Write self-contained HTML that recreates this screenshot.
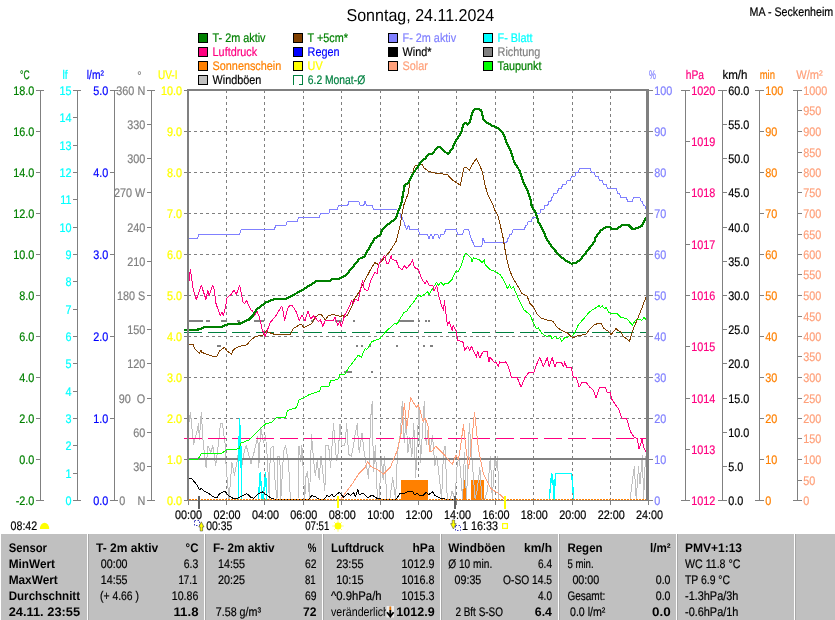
<!DOCTYPE html>
<html lang="de"><head><meta charset="utf-8"><title>Sonntag, 24.11.2024 - MA - Seckenheim</title>
<style>html,body{margin:0;padding:0;background:#fff}svg{display:block;will-change:transform}</style></head>
<body>
<svg width="835" height="620" viewBox="0 0 835 620" font-family="'Liberation Sans', sans-serif" text-rendering="geometricPrecision">
<rect width="835" height="620" fill="#fff"/>
<text x="346.50" y="20.50" fill="#000" font-size="17.3" textLength="147.70" lengthAdjust="spacingAndGlyphs">Sonntag, 24.11.2024</text>
<text x="749.60" y="15.80" fill="#000" font-size="12.5" textLength="83.60" lengthAdjust="spacingAndGlyphs" stroke="#000" stroke-width="0.2">MA - Seckenheim</text>
<rect x="198.5" y="33.5" width="9" height="9" fill="#008000" stroke="#000" stroke-width="1" shape-rendering="crispEdges"/>
<text transform="translate(212.60,41.80) scale(0.866,1)" fill="#008000" font-size="12.5" text-anchor="start" stroke="#008000" stroke-width="0.2">T- 2m aktiv</text>
<rect x="198.5" y="47.5" width="9" height="9" fill="#ff0080" stroke="#000" stroke-width="1" shape-rendering="crispEdges"/>
<text transform="translate(212.60,55.80) scale(0.866,1)" fill="#ff0080" font-size="12.5" text-anchor="start" stroke="#ff0080" stroke-width="0.2">Luftdruck</text>
<rect x="198.5" y="61.5" width="9" height="9" fill="#ff8000" stroke="#000" stroke-width="1" shape-rendering="crispEdges"/>
<text transform="translate(212.60,69.80) scale(0.866,1)" fill="#ff8000" font-size="12.5" text-anchor="start" stroke="#ff8000" stroke-width="0.2">Sonnenschein</text>
<rect x="198.5" y="75.5" width="9" height="9" fill="#c0c0c0" stroke="#000" stroke-width="1" shape-rendering="crispEdges"/>
<text transform="translate(212.60,83.80) scale(0.866,1)" fill="#000" font-size="12.5" text-anchor="start" stroke="#000" stroke-width="0.2">Windböen</text>
<rect x="293.5" y="33.5" width="9" height="9" fill="#804000" stroke="#000" stroke-width="1" shape-rendering="crispEdges"/>
<text transform="translate(307.60,41.80) scale(0.866,1)" fill="#008000" font-size="12.5" text-anchor="start" stroke="#008000" stroke-width="0.2">T +5cm*</text>
<rect x="293.5" y="47.5" width="9" height="9" fill="#0000ff" stroke="#000" stroke-width="1" shape-rendering="crispEdges"/>
<text transform="translate(307.60,55.80) scale(0.866,1)" fill="#0000ff" font-size="12.5" text-anchor="start" stroke="#0000ff" stroke-width="0.2">Regen</text>
<rect x="293.5" y="61.5" width="9" height="9" fill="#ffff00" stroke="#000" stroke-width="1" shape-rendering="crispEdges"/>
<text transform="translate(307.60,69.80) scale(0.866,1)" fill="#ffff00" font-size="12.5" text-anchor="start" stroke="#ffff00" stroke-width="0.2">UV</text>
<path d="M293.5,85 V75.5 H302.5 V84.5 H299" fill="none" stroke="#008040" stroke-width="1" shape-rendering="crispEdges"/>
<text x="307.80" y="83.80" fill="#008040" font-size="12.5" textLength="57.40" lengthAdjust="spacingAndGlyphs" stroke="#008040" stroke-width="0.2">6.2 Monat-Ø</text>
<rect x="388.5" y="33.5" width="9" height="9" fill="#8080ff" stroke="#000" stroke-width="1" shape-rendering="crispEdges"/>
<text transform="translate(402.60,41.80) scale(0.866,1)" fill="#8080ff" font-size="12.5" text-anchor="start" stroke="#8080ff" stroke-width="0.2">F- 2m aktiv</text>
<rect x="388.5" y="47.5" width="9" height="9" fill="#000" stroke="#000" stroke-width="1" shape-rendering="crispEdges"/>
<text transform="translate(402.60,55.80) scale(0.866,1)" fill="#000" font-size="12.5" text-anchor="start" stroke="#000" stroke-width="0.2">Wind*</text>
<rect x="388.5" y="61.5" width="9" height="9" fill="#ffa07a" stroke="#000" stroke-width="1" shape-rendering="crispEdges"/>
<text transform="translate(402.60,69.80) scale(0.866,1)" fill="#ffa07a" font-size="12.5" text-anchor="start" stroke="#ffa07a" stroke-width="0.2">Solar</text>
<rect x="483.5" y="33.5" width="9" height="9" fill="#00ffff" stroke="#000" stroke-width="1" shape-rendering="crispEdges"/>
<text transform="translate(497.60,41.80) scale(0.866,1)" fill="#00ffff" font-size="12.5" text-anchor="start" stroke="#00ffff" stroke-width="0.2">F- Blatt</text>
<rect x="483.5" y="47.5" width="9" height="9" fill="#808080" stroke="#000" stroke-width="1" shape-rendering="crispEdges"/>
<text transform="translate(497.60,55.80) scale(0.866,1)" fill="#808080" font-size="12.5" text-anchor="start" stroke="#808080" stroke-width="0.2">Richtung</text>
<rect x="483.5" y="61.5" width="9" height="9" fill="#00ff00" stroke="#000" stroke-width="1" shape-rendering="crispEdges"/>
<text transform="translate(497.60,69.80) scale(0.866,1)" fill="#008000" font-size="12.5" text-anchor="start" stroke="#008000" stroke-width="0.2">Taupunkt</text>
<line x1="226.5" y1="90" x2="226.5" y2="500" stroke="#808080" stroke-width="1" stroke-dasharray="3 3" shape-rendering="crispEdges"/>
<line x1="264.5" y1="90" x2="264.5" y2="500" stroke="#808080" stroke-width="1" stroke-dasharray="3 3" shape-rendering="crispEdges"/>
<line x1="303.5" y1="90" x2="303.5" y2="500" stroke="#808080" stroke-width="1" stroke-dasharray="3 3" shape-rendering="crispEdges"/>
<line x1="341.5" y1="90" x2="341.5" y2="500" stroke="#808080" stroke-width="1" stroke-dasharray="3 3" shape-rendering="crispEdges"/>
<line x1="380.5" y1="90" x2="380.5" y2="500" stroke="#808080" stroke-width="1" stroke-dasharray="3 3" shape-rendering="crispEdges"/>
<line x1="418.5" y1="90" x2="418.5" y2="500" stroke="#808080" stroke-width="1" stroke-dasharray="3 3" shape-rendering="crispEdges"/>
<line x1="456.5" y1="90" x2="456.5" y2="500" stroke="#808080" stroke-width="1" stroke-dasharray="3 3" shape-rendering="crispEdges"/>
<line x1="495.5" y1="90" x2="495.5" y2="500" stroke="#808080" stroke-width="1" stroke-dasharray="3 3" shape-rendering="crispEdges"/>
<line x1="533.5" y1="90" x2="533.5" y2="500" stroke="#808080" stroke-width="1" stroke-dasharray="3 3" shape-rendering="crispEdges"/>
<line x1="572.5" y1="90" x2="572.5" y2="500" stroke="#808080" stroke-width="1" stroke-dasharray="3 3" shape-rendering="crispEdges"/>
<line x1="610.5" y1="90" x2="610.5" y2="500" stroke="#808080" stroke-width="1" stroke-dasharray="3 3" shape-rendering="crispEdges"/>
<line x1="188" y1="131.5" x2="648" y2="131.5" stroke="#808080" stroke-width="1" stroke-dasharray="3 3" shape-rendering="crispEdges"/>
<line x1="188" y1="172.5" x2="648" y2="172.5" stroke="#808080" stroke-width="1" stroke-dasharray="3 3" shape-rendering="crispEdges"/>
<line x1="188" y1="213.5" x2="648" y2="213.5" stroke="#808080" stroke-width="1" stroke-dasharray="3 3" shape-rendering="crispEdges"/>
<line x1="188" y1="254.5" x2="648" y2="254.5" stroke="#808080" stroke-width="1" stroke-dasharray="3 3" shape-rendering="crispEdges"/>
<line x1="188" y1="295.5" x2="648" y2="295.5" stroke="#808080" stroke-width="1" stroke-dasharray="3 3" shape-rendering="crispEdges"/>
<line x1="188" y1="336.5" x2="648" y2="336.5" stroke="#808080" stroke-width="1" stroke-dasharray="3 3" shape-rendering="crispEdges"/>
<line x1="188" y1="377.5" x2="648" y2="377.5" stroke="#808080" stroke-width="1" stroke-dasharray="3 3" shape-rendering="crispEdges"/>
<line x1="188" y1="418.5" x2="648" y2="418.5" stroke="#808080" stroke-width="1" stroke-dasharray="3 3" shape-rendering="crispEdges"/>
<line x1="188" y1="459.5" x2="648" y2="459.5" stroke="#808080" stroke-width="1" stroke-dasharray="3 3" shape-rendering="crispEdges"/>
<g stroke-linejoin="round" stroke-linecap="butt" shape-rendering="crispEdges">
<rect x="188.5" y="319.6" width="14.9" height="2" fill="#808080"/>
<rect x="206.3" y="319.6" width="3.5" height="2" fill="#808080"/>
<rect x="220.8" y="319.6" width="5.8" height="2" fill="#808080"/>
<rect x="237.2" y="319.6" width="2.9" height="2" fill="#808080"/>
<rect x="253.7" y="319.6" width="5.8" height="2" fill="#808080"/>
<rect x="261.4" y="319.6" width="2.9" height="2" fill="#808080"/>
<rect x="310.7" y="319.6" width="2.9" height="2" fill="#808080"/>
<rect x="335.0" y="319.6" width="6.7" height="2" fill="#808080"/>
<rect x="353.0" y="319.6" width="2.0" height="2" fill="#808080"/>
<rect x="398.0" y="319.6" width="15.5" height="2" fill="#808080"/>
<rect x="417.5" y="319.6" width="2.0" height="2" fill="#808080"/>
<rect x="425.0" y="319.6" width="2.0" height="2" fill="#808080"/>
<rect x="428.0" y="319.6" width="2.0" height="2" fill="#808080"/>
<rect x="217.0" y="345.2" width="3.8" height="2" fill="#808080"/>
<rect x="356.0" y="345.2" width="2.0" height="2" fill="#808080"/>
<rect x="360.7" y="345.2" width="2.0" height="2" fill="#808080"/>
<rect x="369.0" y="345.2" width="2.0" height="2" fill="#808080"/>
<rect x="396.0" y="345.2" width="2.0" height="2" fill="#808080"/>
<rect x="422.6" y="345.2" width="2.0" height="2" fill="#808080"/>
<rect x="430.0" y="345.2" width="3.0" height="2" fill="#808080"/>
<rect x="343.9" y="371.0" width="7.7" height="2" fill="#808080"/>
<rect x="371.0" y="371.0" width="2.0" height="2" fill="#808080"/>
<rect x="401.3" y="479.5" width="26.69999999999999" height="20.5" fill="#ff8000"/>
<rect x="462.5" y="479.5" width="3.1000000000000227" height="20.5" fill="#ff8000"/>
<rect x="471" y="479.5" width="13" height="20.5" fill="#ff8000"/>
<polyline points="188.4,425.7 190.4,412.2 193.6,444.8 196.5,433.3 198.4,423.7 199.4,439.1 201.3,412.2 203.2,442.9 206.1,467.8 208.0,445.8 210.9,452.5 212.8,445.8 215.7,465.9 218.5,442.9 220.4,423.7 222.4,423.7 225.2,444.8 226.2,467.8 229.1,499.4 231.9,462.1 234.4,475.5 237.7,458.2 239.6,441.0 241.5,467.8 244.4,450.6 246.3,445.8 251.1,464.0 254.0,452.5 257.8,436.2 258.8,467.8 260.7,427.6 263.6,442.9 265.5,435.2 267.4,458.2 269.3,499.4 270.3,448.7 273.1,445.8 275.1,481.2 277.0,499.4 277.9,456.3 279.8,456.3 280.8,499.4 283.7,450.6 285.6,445.8 288.5,462.1 290.4,499.4 298.0,499.4 299.0,445.8 300.9,462.1 301.9,445.8 304.8,499.4 305.7,477.4 307.6,471.6 309.5,499.4 311.5,434.3 313.4,458.2 315.3,475.5 317.2,460.1 319.1,479.3 321.0,456.3 324.9,490.8 325.8,445.8 328.7,445.8 330.6,467.8 333.5,423.7 336.4,460.1 338.3,452.5 340.0,423.7 341.9,445.8 344.8,445.8 346.7,423.7 348.6,454.4 351.5,456.3 353.4,445.8 355.3,433.3 357.2,423.7 359.2,452.5 362.0,433.3 364.0,450.6 366.8,467.8 368.7,478.3 370.7,418.0 372.2,401.7 373.5,471.6 375.4,445.8 377.4,499.4 379.3,499.4 381.2,456.3 383.1,479.3 384.5,456.3 386.9,499.4 389.8,499.4 392.7,477.4 395.6,499.4 397.5,452.5 400.4,433.3 402.3,401.7 404.2,442.9 406.1,419.9 408.0,452.5 409.9,437.2 411.9,456.3 413.8,423.7 415.7,477.4 417.6,433.3 418.9,406.5 420.5,462.1 422.4,433.3 424.3,401.7 426.2,444.8 428.1,429.5 430.1,450.6 432.5,435.2 434.8,465.9 436.8,456.3 438.7,471.6 441.6,499.4 443.5,452.5 445.0,445.8 447.3,499.4 450.2,499.4 452.1,490.8 455.0,499.4 456.9,467.8 458.8,456.3 460.3,467.8 462.6,499.4 464.5,452.5 466.5,499.4 469.3,423.7 471.3,452.5 473.2,473.6 475.1,499.4 477.0,490.8 479.9,467.8 481.8,499.4 484.7,499.4 487.5,490.8 490.4,456.3 492.3,499.4 494.8,456.3 496.2,467.8 497.5,456.3 499.0,499.4" fill="none" stroke="#c0c0c0" stroke-width="1" />
<polyline points="630.0,499.5 634.3,466.4 636.2,499.0 638.5,467.0 640.0,484.0 642.4,455.8 643.6,499.0 645.5,456.0" fill="none" stroke="#c0c0c0" stroke-width="1" />
<rect x="189" y="458" width="457" height="2" fill="#808080"/>
<line x1="184" y1="438.5" x2="646" y2="438.5" stroke="#ff0080" stroke-width="1" stroke-dasharray="18 6" shape-rendering="crispEdges"/>
<line x1="184" y1="332.5" x2="646" y2="332.5" stroke="#008040" stroke-width="1" stroke-dasharray="18 6" shape-rendering="crispEdges"/>
<polyline points="341.0,499.0 345.8,492.5 351.6,484.8 359.3,473.2 365.1,467.4 367.7,461.6 371.0,466.4 378.7,470.3 383.5,474.2 390.3,467.4 397.1,450.9 400.9,434.5 402.9,417.1 404.4,403.5 406.7,428.7 410.6,397.7 416.4,407.4 418.4,404.5 423.2,421.9 425.1,418.0 428.0,425.8 429.4,451.9 432.0,451.0 435.8,446.1 444.5,454.8 452.2,464.5 456.1,454.8 458.4,459.6 460.9,444.2 463.4,424.8 465.7,446.1 468.6,468.4 471.5,444.2 474.5,412.2 478.3,448.0 483.2,473.2 490.9,488.7 500.0,494.5 503.7,498.3 505.0,499.5" fill="none" stroke="#ffa07a" stroke-width="1" />
<polyline points="238.2,499.5 239.5,418.4 240.8,445.0 241.8,499.5" fill="none" stroke="#00ffff" stroke-width="1.4" />
<polyline points="258.4,499.5 260.2,473.0 262.2,499.5" fill="none" stroke="#00ffff" stroke-width="1.4" />
<polyline points="263.0,499.5 265.6,473.0 266.8,499.5" fill="none" stroke="#00ffff" stroke-width="1.4" />
<polyline points="549.2,499.5 551.7,473.2 553.0,481.0 554.0,499.5 555.6,473.2 571.4,473.2 572.4,481.0 573.7,499.5" fill="none" stroke="#00ffff" stroke-width="1.4" />
<polyline points="188.0,238.1 197.8,238.1 199.0,234.0 239.8,234.0 241.0,229.9 274.3,229.9 275.5,225.8 285.8,225.8 287.0,221.7 297.3,221.7 298.5,217.6 319.3,217.6 320.5,213.5 328.8,213.5 330.0,209.4 337.3,209.4 338.5,205.3 347.8,205.3 349.0,201.2 358.8,201.2 360.0,205.3 363.8,205.3 365.0,201.2 365.3,201.2 366.5,205.3 372.3,205.3 373.5,209.4 396.8,209.4 398.0,213.5 399.8,213.5 401.0,217.6 402.3,217.6 403.5,221.7 403.8,221.7 405.0,225.8 405.5,225.8 406.7,229.9 406.8,229.9 408.0,225.8 408.8,225.8 410.0,229.9 418.3,229.9 419.5,234.0 427.3,234.0 428.5,238.1 429.3,238.1 430.5,234.0 431.3,234.0 432.5,238.1 433.3,238.1 434.5,234.0 437.8,234.0 439.0,238.1 439.8,238.1 441.0,234.0 444.3,234.0 445.5,229.9 456.3,229.9 457.5,234.0 462.8,234.0 464.0,229.9 468.8,229.9 470.0,234.0 469.8,234.0 471.0,238.1 471.3,238.1 472.5,242.2 473.3,242.2 474.5,246.3 481.8,246.3 483.0,238.1 483.3,238.1 484.5,242.2 506.8,242.2 508.0,238.1 508.8,238.1 510.0,234.0 511.8,234.0 513.0,229.9 524.3,229.9 525.5,225.8 526.8,225.8 528.0,221.7 531.3,221.7 532.5,217.6 535.8,217.6 537.0,213.5 539.8,213.5 541.0,209.4 543.8,209.4 545.0,205.3 547.8,205.3 549.0,201.2 550.8,201.2 552.0,197.1 552.8,197.1 554.0,193.0 557.3,193.0 558.5,188.9 561.3,188.9 562.5,184.8 565.8,184.8 567.0,180.7 570.2,180.7 571.4,176.6 574.8,176.6 576.0,172.5 578.3,172.5 579.5,168.4 590.3,168.4 591.5,172.5 594.3,172.5 595.5,176.6 598.3,176.6 599.5,180.7 602.3,180.7 603.5,184.8 606.3,184.8 607.5,188.9 616.3,188.9 617.5,193.0 619.3,193.0 620.5,197.1 626.3,197.1 627.5,201.2 632.3,201.2 633.5,197.1 639.8,197.1 641.0,201.2 642.3,201.2 643.5,205.3 644.8,205.3 646.0,209.4 646.5,209.4" fill="none" stroke="#8080ff" stroke-width="1" />
<polyline points="188.5,478.4 191.8,478.8 196.6,484.6 199.5,489.5 201.4,488.5 204.3,491.4 207.2,492.4 214.0,497.2 217.0,497.8 218.9,494.3 224.7,491.0 228.5,495.7 233.4,498.6 237.2,498.6 243.0,495.3 246.9,493.7 250.8,497.2 253.7,498.2 257.5,494.3 262.4,492.0 267.2,495.3 271.1,498.2 275.9,499.5 308.8,499.5 311.7,495.7 314.6,496.2 318.5,499.1 324.3,499.1 327.2,495.3 329.1,497.2 332.0,494.3 334.0,497.2 337.8,493.3 339.8,492.4 341.7,495.3 343.9,497.4 347.7,493.5 350.6,495.4 353.5,492.5 355.5,496.4 357.8,489.6 359.3,494.5 363.2,493.5 368.0,498.0 371.9,494.9 377.7,498.7 385.5,499.5 396.1,499.3 400.0,493.5 403.8,493.5 408.7,491.0 412.5,491.6 414.5,494.5 417.4,493.5 420.3,496.0 423.2,495.4 426.1,492.5 429.0,494.5 432.5,491.6 434.8,495.4 440.6,498.3 448.3,499.5 455.0,499.5" fill="none" stroke="#000" stroke-width="1" />
<polyline points="188.5,459.1 198.2,459.1 201.4,453.3 221.8,453.1 226.6,449.8 239.2,448.8 241.1,443.0 248.8,440.1 254.6,434.3 261.4,427.6 266.3,423.3 271.1,422.7 275.9,417.9 285.6,417.3 287.5,410.5 296.2,407.8 299.1,400.1 308.8,394.9 319.5,391.0 321.4,386.4 329.1,386.0 330.5,380.6 337.8,379.6 339.8,374.8 344.8,374.1 348.7,367.7 358.4,355.1 361.3,357.5 365.1,348.4 367.0,349.3 371.9,341.6 379.7,338.7 386.4,331.0 395.1,323.2 397.0,324.2 403.8,312.6 406.7,311.3 409.6,306.8 413.5,302.4 418.4,294.6 421.3,296.6 428.0,291.7 429.0,294.6 434.8,285.0 436.7,282.1 438.7,285.9 440.6,282.1 443.5,285.0 445.4,283.0 447.4,284.0 452.2,279.2 456.1,270.4 458.0,271.4 460.9,266.6 464.8,254.0 466.7,253.4 471.5,258.8 471.9,261.7 473.5,257.9 479.3,259.8 482.2,262.7 484.1,259.8 485.1,264.6 489.9,269.5 495.0,271.4 500.8,275.3 504.7,282.1 507.6,288.8 509.5,285.0 511.4,288.8 513.4,286.9 516.3,293.7 520.1,302.4 524.0,309.9 529.8,314.5 533.7,323.2 536.6,329.0 538.5,328.0 541.4,332.9 545.3,335.8 547.2,336.8 550.1,334.8 552.1,338.7 555.0,335.8 556.9,338.7 559.8,337.7 561.7,341.6 564.6,337.7 567.5,337.7 569.5,335.8 571.4,336.8 575.3,331.9 578.2,325.1 584.0,318.4 589.8,311.6 597.5,306.8 599.5,305.4 600.4,307.7 602.4,305.8 604.3,308.7 606.2,307.7 609.1,312.6 612.0,313.5 616.9,313.5 620.8,317.4 626.6,318.4 632.4,325.1 635.3,320.3 638.2,319.3 642.0,320.3 644.0,317.4 645.9,319.3" fill="none" stroke="#00ff00" stroke-width="1" />
<polyline points="188.5,344.4 193.1,344.4 194.7,348.7 199.5,353.5 201.0,350.0 202.0,352.5 212.0,356.0 217.0,356.0 219.8,350.6 224.7,347.3 226.6,350.6 231.4,354.1 233.4,349.6 239.2,346.4 247.0,344.8 250.8,340.0 255.6,336.5 264.3,334.7 266.3,330.7 268.2,332.2 274.0,334.2 290.4,334.2 293.3,328.4 301.0,324.1 304.0,327.4 311.7,323.5 315.6,316.8 318.5,314.8 321.4,314.8 325.3,319.7 328.2,315.8 334.0,313.9 336.0,315.8 338.0,315.4 340.0,316.8 342.5,315.4 345.0,316.8 347.7,315.0 351.6,307.2 353.5,300.4 359.3,291.7 365.1,280.1 370.0,270.5 374.8,262.7 378.7,264.6 383.5,258.8 389.3,252.1 396.1,241.4 400.0,226.0 401.9,214.3 403.8,205.0 406.7,197.2 408.5,193.0 410.0,179.8 412.5,174.0 414.5,166.3 416.5,165.3 422.2,164.3 424.2,168.2 429.0,171.5 434.8,173.0 447.4,174.6 452.2,179.8 460.3,185.2 463.8,168.2 465.7,167.2 469.6,170.1 472.5,164.3 476.4,158.5 482.2,171.1 485.1,185.6 488.0,195.0 492.8,204.7 495.0,210.5 497.9,215.3 502.7,235.6 505.6,253.0 508.5,266.6 512.4,277.2 518.2,286.9 522.1,293.7 526.9,295.6 529.8,303.3 533.7,307.2 536.6,313.5 540.5,317.8 546.3,319.9 553.0,321.3 556.9,327.1 561.7,330.6 567.5,332.9 571.4,336.8 573.4,337.7 577.2,335.8 585.9,334.4 589.8,329.0 593.7,325.1 598.5,323.2 601.4,323.2 603.3,328.1 609.1,331.9 611.1,334.8 615.9,328.6 618.8,331.0 620.8,331.9 622.7,335.8 629.5,341.2 633.3,329.0 638.2,317.4 642.0,307.7 645.9,297.5" fill="none" stroke="#804000" stroke-width="1" />
<polyline points="188.5,284.8 190.4,269.3 192.7,286.7 196.2,299.8 201.4,285.5 205.9,299.3 207.8,290.6 209.2,295.4 212.7,285.3 214.0,288.7 216.0,303.5 220.2,315.8 221.8,312.0 223.3,315.8 224.7,311.0 227.2,297.4 231.4,294.5 233.8,290.1 236.3,294.5 239.7,285.3 243.0,301.7 244.6,303.5 246.5,300.3 250.8,310.0 252.7,311.0 254.6,315.8 257.0,311.0 259.5,317.7 262.4,330.3 265.3,336.1 270.1,322.6 275.9,315.8 281.7,306.1 282.7,309.0 284.6,320.6 287.5,309.0 289.9,305.1 292.4,305.7 296.2,311.9 299.1,320.6 302.0,314.8 305.0,320.6 307.8,311.0 310.7,318.7 313.6,315.8 318.5,321.6 320.4,319.7 322.7,326.4 325.3,320.6 333.0,320.6 335.0,316.8 337.8,325.5 339.8,321.6 341.3,326.4 344.8,315.0 347.7,310.1 351.6,301.0 353.2,303.3 355.5,299.5 358.4,300.4 361.3,285.9 362.8,280.1 364.2,289.8 368.0,290.2 371.0,280.1 374.8,272.4 377.1,273.3 378.7,264.6 381.6,259.8 384.9,255.0 386.4,263.7 388.4,263.7 391.3,255.0 392.2,259.8 396.1,260.2 399.0,267.5 401.9,269.5 404.8,265.6 406.7,268.5 410.6,263.7 412.5,259.8 414.5,267.5 418.4,269.5 421.3,278.2 425.1,284.0 426.7,280.1 429.0,285.0 432.9,285.5 433.8,290.8 436.7,285.9 438.7,295.6 441.6,306.2 443.5,310.1 444.5,300.4 445.4,309.7 447.4,325.1 449.3,321.3 452.2,331.0 453.2,325.1 456.1,331.0 458.0,340.6 462.8,341.6 464.8,350.3 467.7,346.4 469.6,350.3 471.5,346.4 476.4,357.1 477.7,351.3 479.7,358.0 483.2,351.3 487.0,351.3 489.0,361.9 489.9,357.1 494.8,362.9 496.0,361.9 498.2,366.7 499.8,361.9 503.7,362.9 505.6,361.9 508.5,366.7 511.4,377.4 517.2,377.4 521.1,387.1 525.0,377.4 528.9,372.5 533.7,372.5 537.6,361.9 539.9,357.7 543.4,366.7 547.2,357.7 549.2,366.7 552.1,357.7 555.0,366.7 556.9,361.9 561.7,362.9 563.7,366.7 564.6,361.9 566.6,367.1 571.4,367.7 573.4,377.4 576.3,377.4 579.2,387.1 582.1,382.2 585.9,382.2 589.8,387.1 593.7,390.9 596.0,397.7 599.5,387.4 605.3,387.4 607.2,392.5 610.1,392.5 612.0,399.6 614.0,402.6 618.8,409.3 621.7,418.0 626.6,418.4 630.4,431.6 634.3,437.4 637.2,438.4 639.1,449.0 642.0,439.3 644.0,448.0 646.9,452.9" fill="none" stroke="#ff0080" stroke-width="1" />
<polyline points="184.0,330.3 188.5,330.3 200.5,329.3 203.4,327.4 220.8,327.0 228.5,324.1 240.1,323.5 248.8,319.7 252.7,315.8 257.0,309.0 266.3,302.2 274.0,299.3 285.6,298.8 291.4,296.0 303.0,289.7 316.5,281.0 330.1,280.6 332.0,279.0 339.8,278.6 345.8,275.3 351.6,268.5 359.3,258.8 364.2,256.9 369.0,248.2 374.8,238.5 380.6,234.7 381.6,230.8 388.4,224.0 396.1,218.2 399.0,209.5 401.5,202.7 402.9,195.0 404.8,184.6 407.7,183.7 411.6,175.9 417.4,167.2 421.3,161.4 425.1,158.5 429.0,154.3 432.9,153.3 436.7,147.9 439.6,146.9 444.5,151.7 448.3,153.7 452.2,148.8 456.1,140.1 460.9,133.4 463.8,123.7 465.7,122.7 467.7,124.7 470.0,121.8 472.5,112.1 474.5,109.2 477.4,108.7 481.2,110.0 483.2,118.9 487.0,122.7 492.8,126.0 495.0,126.6 499.8,129.5 503.7,134.3 506.6,143.0 510.5,150.8 514.3,162.4 519.2,170.1 524.0,183.7 527.9,191.4 530.8,200.8 531.8,206.6 535.6,212.4 538.5,222.1 543.4,230.8 546.3,238.5 552.1,247.2 560.8,256.9 567.5,261.7 571.4,263.7 575.3,263.1 580.1,259.8 587.9,250.1 594.6,241.4 595.6,237.6 600.4,230.8 606.2,226.9 610.1,226.9 611.0,228.9 616.9,228.9 622.7,225.0 628.5,225.0 632.4,228.9 637.2,228.3 642.0,226.0 644.0,221.1 646.3,217.8" fill="none" stroke="#008000" stroke-width="2.2" />
</g>
<rect x="187" y="500" width="462" height="1" fill="#808080"/>
<line x1="189" y1="499.5" x2="646" y2="499.5" stroke="#ff8000" stroke-width="1" stroke-dasharray="2 1" shape-rendering="crispEdges"/>
<rect x="187" y="89" width="2" height="412" fill="#808080"/>
<rect x="646" y="89" width="3" height="412" fill="#808080"/>
<rect x="187" y="89" width="462" height="2" fill="#808080"/>
<rect x="188" y="501" width="1" height="4" fill="#808080"/>
<text transform="translate(188.60,518.70) scale(0.866,1)" fill="#000" font-size="12.5" text-anchor="middle" stroke="#000" stroke-width="0.2">00:00</text>
<rect x="226" y="501" width="1" height="4" fill="#808080"/>
<text transform="translate(227.02,518.70) scale(0.866,1)" fill="#000" font-size="12.5" text-anchor="middle" stroke="#000" stroke-width="0.2">02:00</text>
<rect x="264" y="501" width="1" height="4" fill="#808080"/>
<text transform="translate(265.43,518.70) scale(0.866,1)" fill="#000" font-size="12.5" text-anchor="middle" stroke="#000" stroke-width="0.2">04:00</text>
<rect x="303" y="501" width="1" height="4" fill="#808080"/>
<text transform="translate(303.85,518.70) scale(0.866,1)" fill="#000" font-size="12.5" text-anchor="middle" stroke="#000" stroke-width="0.2">06:00</text>
<rect x="341" y="501" width="1" height="4" fill="#808080"/>
<text transform="translate(342.27,518.70) scale(0.866,1)" fill="#000" font-size="12.5" text-anchor="middle" stroke="#000" stroke-width="0.2">08:00</text>
<rect x="380" y="501" width="1" height="4" fill="#808080"/>
<text transform="translate(380.68,518.70) scale(0.866,1)" fill="#000" font-size="12.5" text-anchor="middle" stroke="#000" stroke-width="0.2">10:00</text>
<rect x="418" y="501" width="1" height="4" fill="#808080"/>
<text transform="translate(419.10,518.70) scale(0.866,1)" fill="#000" font-size="12.5" text-anchor="middle" stroke="#000" stroke-width="0.2">12:00</text>
<rect x="456" y="501" width="1" height="4" fill="#808080"/>
<text transform="translate(457.52,518.70) scale(0.866,1)" fill="#000" font-size="12.5" text-anchor="middle" stroke="#000" stroke-width="0.2">14:00</text>
<rect x="495" y="501" width="1" height="4" fill="#808080"/>
<text transform="translate(495.93,518.70) scale(0.866,1)" fill="#000" font-size="12.5" text-anchor="middle" stroke="#000" stroke-width="0.2">16:00</text>
<rect x="533" y="501" width="1" height="4" fill="#808080"/>
<text transform="translate(534.35,518.70) scale(0.866,1)" fill="#000" font-size="12.5" text-anchor="middle" stroke="#000" stroke-width="0.2">18:00</text>
<rect x="572" y="501" width="1" height="4" fill="#808080"/>
<text transform="translate(572.77,518.70) scale(0.866,1)" fill="#000" font-size="12.5" text-anchor="middle" stroke="#000" stroke-width="0.2">20:00</text>
<rect x="610" y="501" width="1" height="4" fill="#808080"/>
<text transform="translate(611.18,518.70) scale(0.866,1)" fill="#000" font-size="12.5" text-anchor="middle" stroke="#000" stroke-width="0.2">22:00</text>
<rect x="648" y="501" width="1" height="4" fill="#808080"/>
<text transform="translate(649.60,518.70) scale(0.866,1)" fill="#000" font-size="12.5" text-anchor="middle" stroke="#000" stroke-width="0.2">24:00</text>
<rect x="198" y="496" width="2" height="13" fill="#606060"/>
<rect x="454" y="496" width="2" height="13" fill="#606060"/>
<rect x="337" y="496" width="2" height="12" fill="#ffff00"/>
<rect x="504" y="496" width="2" height="13" fill="#ffff00"/>
<rect x="40" y="90" width="1" height="411" fill="#808080"/>
<rect x="36" y="90" width="8" height="1" fill="#808080"/>
<rect x="36" y="500" width="8" height="1" fill="#808080"/>
<rect x="36" y="500" width="4" height="1" fill="#808080"/>
<text transform="translate(34.30,504.90) scale(0.866,1)" fill="#008000" font-size="12.5" text-anchor="end" stroke="#008000" stroke-width="0.2">-2.0</text>
<rect x="36" y="459" width="4" height="1" fill="#808080"/>
<text transform="translate(34.30,463.90) scale(0.866,1)" fill="#008000" font-size="12.5" text-anchor="end" stroke="#008000" stroke-width="0.2">0.0</text>
<rect x="36" y="418" width="4" height="1" fill="#808080"/>
<text transform="translate(34.30,422.90) scale(0.866,1)" fill="#008000" font-size="12.5" text-anchor="end" stroke="#008000" stroke-width="0.2">2.0</text>
<rect x="36" y="377" width="4" height="1" fill="#808080"/>
<text transform="translate(34.30,381.90) scale(0.866,1)" fill="#008000" font-size="12.5" text-anchor="end" stroke="#008000" stroke-width="0.2">4.0</text>
<rect x="36" y="336" width="4" height="1" fill="#808080"/>
<text transform="translate(34.30,340.90) scale(0.866,1)" fill="#008000" font-size="12.5" text-anchor="end" stroke="#008000" stroke-width="0.2">6.0</text>
<rect x="36" y="295" width="4" height="1" fill="#808080"/>
<text transform="translate(34.30,299.90) scale(0.866,1)" fill="#008000" font-size="12.5" text-anchor="end" stroke="#008000" stroke-width="0.2">8.0</text>
<rect x="36" y="254" width="4" height="1" fill="#808080"/>
<text transform="translate(34.30,258.90) scale(0.866,1)" fill="#008000" font-size="12.5" text-anchor="end" stroke="#008000" stroke-width="0.2">10.0</text>
<rect x="36" y="213" width="4" height="1" fill="#808080"/>
<text transform="translate(34.30,217.90) scale(0.866,1)" fill="#008000" font-size="12.5" text-anchor="end" stroke="#008000" stroke-width="0.2">12.0</text>
<rect x="36" y="172" width="4" height="1" fill="#808080"/>
<text transform="translate(34.30,176.90) scale(0.866,1)" fill="#008000" font-size="12.5" text-anchor="end" stroke="#008000" stroke-width="0.2">14.0</text>
<rect x="36" y="131" width="4" height="1" fill="#808080"/>
<text transform="translate(34.30,135.90) scale(0.866,1)" fill="#008000" font-size="12.5" text-anchor="end" stroke="#008000" stroke-width="0.2">16.0</text>
<rect x="36" y="90" width="4" height="1" fill="#808080"/>
<text transform="translate(34.30,94.90) scale(0.866,1)" fill="#008000" font-size="12.5" text-anchor="end" stroke="#008000" stroke-width="0.2">18.0</text>
<text x="20.10" y="79.00" fill="#008000" font-size="12.5" textLength="9.60" lengthAdjust="spacingAndGlyphs" stroke="#008000" stroke-width="0.2">°C</text>
<rect x="77" y="90" width="1" height="411" fill="#808080"/>
<rect x="73" y="90" width="8" height="1" fill="#808080"/>
<rect x="73" y="500" width="8" height="1" fill="#808080"/>
<rect x="73" y="500" width="4" height="1" fill="#808080"/>
<text transform="translate(71.60,504.90) scale(0.866,1)" fill="#00ffff" font-size="12.5" text-anchor="end" stroke="#00ffff" stroke-width="0.2">0</text>
<rect x="73" y="473" width="4" height="1" fill="#808080"/>
<text transform="translate(71.60,477.90) scale(0.866,1)" fill="#00ffff" font-size="12.5" text-anchor="end" stroke="#00ffff" stroke-width="0.2">1</text>
<rect x="73" y="445" width="4" height="1" fill="#808080"/>
<text transform="translate(71.60,449.90) scale(0.866,1)" fill="#00ffff" font-size="12.5" text-anchor="end" stroke="#00ffff" stroke-width="0.2">2</text>
<rect x="73" y="418" width="4" height="1" fill="#808080"/>
<text transform="translate(71.60,422.90) scale(0.866,1)" fill="#00ffff" font-size="12.5" text-anchor="end" stroke="#00ffff" stroke-width="0.2">3</text>
<rect x="73" y="391" width="4" height="1" fill="#808080"/>
<text transform="translate(71.60,395.90) scale(0.866,1)" fill="#00ffff" font-size="12.5" text-anchor="end" stroke="#00ffff" stroke-width="0.2">4</text>
<rect x="73" y="363" width="4" height="1" fill="#808080"/>
<text transform="translate(71.60,367.90) scale(0.866,1)" fill="#00ffff" font-size="12.5" text-anchor="end" stroke="#00ffff" stroke-width="0.2">5</text>
<rect x="73" y="336" width="4" height="1" fill="#808080"/>
<text transform="translate(71.60,340.90) scale(0.866,1)" fill="#00ffff" font-size="12.5" text-anchor="end" stroke="#00ffff" stroke-width="0.2">6</text>
<rect x="73" y="309" width="4" height="1" fill="#808080"/>
<text transform="translate(71.60,313.90) scale(0.866,1)" fill="#00ffff" font-size="12.5" text-anchor="end" stroke="#00ffff" stroke-width="0.2">7</text>
<rect x="73" y="281" width="4" height="1" fill="#808080"/>
<text transform="translate(71.60,285.90) scale(0.866,1)" fill="#00ffff" font-size="12.5" text-anchor="end" stroke="#00ffff" stroke-width="0.2">8</text>
<rect x="73" y="254" width="4" height="1" fill="#808080"/>
<text transform="translate(71.60,258.90) scale(0.866,1)" fill="#00ffff" font-size="12.5" text-anchor="end" stroke="#00ffff" stroke-width="0.2">9</text>
<rect x="73" y="227" width="4" height="1" fill="#808080"/>
<text transform="translate(71.60,231.90) scale(0.866,1)" fill="#00ffff" font-size="12.5" text-anchor="end" stroke="#00ffff" stroke-width="0.2">10</text>
<rect x="73" y="199" width="4" height="1" fill="#808080"/>
<text transform="translate(71.60,203.90) scale(0.866,1)" fill="#00ffff" font-size="12.5" text-anchor="end" stroke="#00ffff" stroke-width="0.2">11</text>
<rect x="73" y="172" width="4" height="1" fill="#808080"/>
<text transform="translate(71.60,176.90) scale(0.866,1)" fill="#00ffff" font-size="12.5" text-anchor="end" stroke="#00ffff" stroke-width="0.2">12</text>
<rect x="73" y="145" width="4" height="1" fill="#808080"/>
<text transform="translate(71.60,149.90) scale(0.866,1)" fill="#00ffff" font-size="12.5" text-anchor="end" stroke="#00ffff" stroke-width="0.2">13</text>
<rect x="73" y="117" width="4" height="1" fill="#808080"/>
<text transform="translate(71.60,121.90) scale(0.866,1)" fill="#00ffff" font-size="12.5" text-anchor="end" stroke="#00ffff" stroke-width="0.2">14</text>
<rect x="73" y="90" width="4" height="1" fill="#808080"/>
<text transform="translate(71.60,94.90) scale(0.866,1)" fill="#00ffff" font-size="12.5" text-anchor="end" stroke="#00ffff" stroke-width="0.2">15</text>
<text x="62.40" y="79.00" fill="#00ffff" font-size="12.5" textLength="5.20" lengthAdjust="spacingAndGlyphs" stroke="#00ffff" stroke-width="0.2">lf</text>
<rect x="114" y="90" width="1" height="411" fill="#808080"/>
<rect x="110" y="90" width="8" height="1" fill="#808080"/>
<rect x="110" y="500" width="8" height="1" fill="#808080"/>
<rect x="110" y="500" width="4" height="1" fill="#808080"/>
<text transform="translate(108.30,504.90) scale(0.866,1)" fill="#0000ff" font-size="12.5" text-anchor="end" stroke="#0000ff" stroke-width="0.2">0.0</text>
<rect x="110" y="418" width="4" height="1" fill="#808080"/>
<text transform="translate(108.30,422.90) scale(0.866,1)" fill="#0000ff" font-size="12.5" text-anchor="end" stroke="#0000ff" stroke-width="0.2">1.0</text>
<rect x="110" y="336" width="4" height="1" fill="#808080"/>
<text transform="translate(108.30,340.90) scale(0.866,1)" fill="#0000ff" font-size="12.5" text-anchor="end" stroke="#0000ff" stroke-width="0.2">2.0</text>
<rect x="110" y="254" width="4" height="1" fill="#808080"/>
<text transform="translate(108.30,258.90) scale(0.866,1)" fill="#0000ff" font-size="12.5" text-anchor="end" stroke="#0000ff" stroke-width="0.2">3.0</text>
<rect x="110" y="172" width="4" height="1" fill="#808080"/>
<text transform="translate(108.30,176.90) scale(0.866,1)" fill="#0000ff" font-size="12.5" text-anchor="end" stroke="#0000ff" stroke-width="0.2">4.0</text>
<rect x="110" y="90" width="4" height="1" fill="#808080"/>
<text transform="translate(108.30,94.90) scale(0.866,1)" fill="#0000ff" font-size="12.5" text-anchor="end" stroke="#0000ff" stroke-width="0.2">5.0</text>
<text x="86.80" y="79.00" fill="#0000ff" font-size="12.5" textLength="17.00" lengthAdjust="spacingAndGlyphs" stroke="#0000ff" stroke-width="0.2">l/m²</text>
<rect x="151" y="90" width="1" height="411" fill="#808080"/>
<rect x="147" y="90" width="8" height="1" fill="#808080"/>
<rect x="147" y="500" width="8" height="1" fill="#808080"/>
<rect x="147" y="500" width="4" height="1" fill="#808080"/>
<text transform="translate(145.20,504.90) scale(0.866,1)" fill="#808080" font-size="12.5" text-anchor="end" stroke="#808080" stroke-width="0.2">0    N</text>
<rect x="147" y="466" width="4" height="1" fill="#808080"/>
<text transform="translate(145.20,470.90) scale(0.866,1)" fill="#808080" font-size="12.5" text-anchor="end" stroke="#808080" stroke-width="0.2">30</text>
<rect x="147" y="432" width="4" height="1" fill="#808080"/>
<text transform="translate(145.20,436.90) scale(0.866,1)" fill="#808080" font-size="12.5" text-anchor="end" stroke="#808080" stroke-width="0.2">60</text>
<rect x="147" y="398" width="4" height="1" fill="#808080"/>
<text transform="translate(145.20,402.90) scale(0.866,1)" fill="#808080" font-size="12.5" text-anchor="end" stroke="#808080" stroke-width="0.2">90  O</text>
<rect x="147" y="363" width="4" height="1" fill="#808080"/>
<text transform="translate(145.20,367.90) scale(0.866,1)" fill="#808080" font-size="12.5" text-anchor="end" stroke="#808080" stroke-width="0.2">120</text>
<rect x="147" y="329" width="4" height="1" fill="#808080"/>
<text transform="translate(145.20,333.90) scale(0.866,1)" fill="#808080" font-size="12.5" text-anchor="end" stroke="#808080" stroke-width="0.2">150</text>
<rect x="147" y="295" width="4" height="1" fill="#808080"/>
<text transform="translate(145.20,299.90) scale(0.866,1)" fill="#808080" font-size="12.5" text-anchor="end" stroke="#808080" stroke-width="0.2">180 S</text>
<rect x="147" y="261" width="4" height="1" fill="#808080"/>
<text transform="translate(145.20,265.90) scale(0.866,1)" fill="#808080" font-size="12.5" text-anchor="end" stroke="#808080" stroke-width="0.2">210</text>
<rect x="147" y="227" width="4" height="1" fill="#808080"/>
<text transform="translate(145.20,231.90) scale(0.866,1)" fill="#808080" font-size="12.5" text-anchor="end" stroke="#808080" stroke-width="0.2">240</text>
<rect x="147" y="192" width="4" height="1" fill="#808080"/>
<text transform="translate(145.20,196.90) scale(0.866,1)" fill="#808080" font-size="12.5" text-anchor="end" stroke="#808080" stroke-width="0.2">270 W</text>
<rect x="147" y="158" width="4" height="1" fill="#808080"/>
<text transform="translate(145.20,162.90) scale(0.866,1)" fill="#808080" font-size="12.5" text-anchor="end" stroke="#808080" stroke-width="0.2">300</text>
<rect x="147" y="124" width="4" height="1" fill="#808080"/>
<text transform="translate(145.20,128.90) scale(0.866,1)" fill="#808080" font-size="12.5" text-anchor="end" stroke="#808080" stroke-width="0.2">330</text>
<rect x="147" y="90" width="4" height="1" fill="#808080"/>
<text transform="translate(145.20,94.90) scale(0.866,1)" fill="#808080" font-size="12.5" text-anchor="end" stroke="#808080" stroke-width="0.2">360 N</text>
<text transform="translate(137.20,79.70) scale(0.866,1)" fill="#808080" font-size="12.5" text-anchor="start" stroke="#808080" stroke-width="0.2">°</text>
<rect x="184" y="500" width="3" height="1" fill="#808080"/>
<text transform="translate(182.00,504.90) scale(0.866,1)" fill="#ffff00" font-size="12.5" text-anchor="end" stroke="#ffff00" stroke-width="0.2">0.0</text>
<rect x="184" y="459" width="3" height="1" fill="#808080"/>
<text transform="translate(182.00,463.90) scale(0.866,1)" fill="#ffff00" font-size="12.5" text-anchor="end" stroke="#ffff00" stroke-width="0.2">1.0</text>
<rect x="184" y="418" width="3" height="1" fill="#808080"/>
<text transform="translate(182.00,422.90) scale(0.866,1)" fill="#ffff00" font-size="12.5" text-anchor="end" stroke="#ffff00" stroke-width="0.2">2.0</text>
<rect x="184" y="377" width="3" height="1" fill="#808080"/>
<text transform="translate(182.00,381.90) scale(0.866,1)" fill="#ffff00" font-size="12.5" text-anchor="end" stroke="#ffff00" stroke-width="0.2">3.0</text>
<rect x="184" y="336" width="3" height="1" fill="#808080"/>
<text transform="translate(182.00,340.90) scale(0.866,1)" fill="#ffff00" font-size="12.5" text-anchor="end" stroke="#ffff00" stroke-width="0.2">4.0</text>
<rect x="184" y="295" width="3" height="1" fill="#808080"/>
<text transform="translate(182.00,299.90) scale(0.866,1)" fill="#ffff00" font-size="12.5" text-anchor="end" stroke="#ffff00" stroke-width="0.2">5.0</text>
<rect x="184" y="254" width="3" height="1" fill="#808080"/>
<text transform="translate(182.00,258.90) scale(0.866,1)" fill="#ffff00" font-size="12.5" text-anchor="end" stroke="#ffff00" stroke-width="0.2">6.0</text>
<rect x="184" y="213" width="3" height="1" fill="#808080"/>
<text transform="translate(182.00,217.90) scale(0.866,1)" fill="#ffff00" font-size="12.5" text-anchor="end" stroke="#ffff00" stroke-width="0.2">7.0</text>
<rect x="184" y="172" width="3" height="1" fill="#808080"/>
<text transform="translate(182.00,176.90) scale(0.866,1)" fill="#ffff00" font-size="12.5" text-anchor="end" stroke="#ffff00" stroke-width="0.2">8.0</text>
<rect x="184" y="131" width="3" height="1" fill="#808080"/>
<text transform="translate(182.00,135.90) scale(0.866,1)" fill="#ffff00" font-size="12.5" text-anchor="end" stroke="#ffff00" stroke-width="0.2">9.0</text>
<rect x="184" y="90" width="3" height="1" fill="#808080"/>
<text transform="translate(182.00,94.90) scale(0.866,1)" fill="#ffff00" font-size="12.5" text-anchor="end" stroke="#ffff00" stroke-width="0.2">10.0</text>
<text x="158.00" y="79.00" fill="#ffff00" font-size="12.5" textLength="19.50" lengthAdjust="spacingAndGlyphs" stroke="#ffff00" stroke-width="0.2">UV-I</text>
<rect x="649" y="500" width="4" height="1" fill="#808080"/>
<text transform="translate(654.30,504.90) scale(0.866,1)" fill="#8080ff" font-size="12.5" text-anchor="start" stroke="#8080ff" stroke-width="0.2">0</text>
<rect x="649" y="459" width="4" height="1" fill="#808080"/>
<text transform="translate(654.30,463.90) scale(0.866,1)" fill="#8080ff" font-size="12.5" text-anchor="start" stroke="#8080ff" stroke-width="0.2">10</text>
<rect x="649" y="418" width="4" height="1" fill="#808080"/>
<text transform="translate(654.30,422.90) scale(0.866,1)" fill="#8080ff" font-size="12.5" text-anchor="start" stroke="#8080ff" stroke-width="0.2">20</text>
<rect x="649" y="377" width="4" height="1" fill="#808080"/>
<text transform="translate(654.30,381.90) scale(0.866,1)" fill="#8080ff" font-size="12.5" text-anchor="start" stroke="#8080ff" stroke-width="0.2">30</text>
<rect x="649" y="336" width="4" height="1" fill="#808080"/>
<text transform="translate(654.30,340.90) scale(0.866,1)" fill="#8080ff" font-size="12.5" text-anchor="start" stroke="#8080ff" stroke-width="0.2">40</text>
<rect x="649" y="295" width="4" height="1" fill="#808080"/>
<text transform="translate(654.30,299.90) scale(0.866,1)" fill="#8080ff" font-size="12.5" text-anchor="start" stroke="#8080ff" stroke-width="0.2">50</text>
<rect x="649" y="254" width="4" height="1" fill="#808080"/>
<text transform="translate(654.30,258.90) scale(0.866,1)" fill="#8080ff" font-size="12.5" text-anchor="start" stroke="#8080ff" stroke-width="0.2">60</text>
<rect x="649" y="213" width="4" height="1" fill="#808080"/>
<text transform="translate(654.30,217.90) scale(0.866,1)" fill="#8080ff" font-size="12.5" text-anchor="start" stroke="#8080ff" stroke-width="0.2">70</text>
<rect x="649" y="172" width="4" height="1" fill="#808080"/>
<text transform="translate(654.30,176.90) scale(0.866,1)" fill="#8080ff" font-size="12.5" text-anchor="start" stroke="#8080ff" stroke-width="0.2">80</text>
<rect x="649" y="131" width="4" height="1" fill="#808080"/>
<text transform="translate(654.30,135.90) scale(0.866,1)" fill="#8080ff" font-size="12.5" text-anchor="start" stroke="#8080ff" stroke-width="0.2">90</text>
<rect x="649" y="90" width="4" height="1" fill="#808080"/>
<text transform="translate(654.30,94.90) scale(0.866,1)" fill="#8080ff" font-size="12.5" text-anchor="start" stroke="#8080ff" stroke-width="0.2">100</text>
<text x="648.90" y="79.00" fill="#8080ff" font-size="12.5" textLength="6.90" lengthAdjust="spacingAndGlyphs" stroke="#8080ff" stroke-width="0.2">%</text>
<rect x="685" y="90" width="1" height="411" fill="#808080"/>
<rect x="681" y="90" width="9" height="1" fill="#808080"/>
<rect x="681" y="500" width="8" height="1" fill="#808080"/>
<rect x="686" y="500" width="4" height="1" fill="#808080"/>
<text transform="translate(691.30,504.90) scale(0.866,1)" fill="#ff0080" font-size="12.5" text-anchor="start" stroke="#ff0080" stroke-width="0.2">1012</text>
<rect x="686" y="449" width="4" height="1" fill="#808080"/>
<text transform="translate(691.30,453.90) scale(0.866,1)" fill="#ff0080" font-size="12.5" text-anchor="start" stroke="#ff0080" stroke-width="0.2">1013</text>
<rect x="686" y="398" width="4" height="1" fill="#808080"/>
<text transform="translate(691.30,402.90) scale(0.866,1)" fill="#ff0080" font-size="12.5" text-anchor="start" stroke="#ff0080" stroke-width="0.2">1014</text>
<rect x="686" y="346" width="4" height="1" fill="#808080"/>
<text transform="translate(691.30,350.90) scale(0.866,1)" fill="#ff0080" font-size="12.5" text-anchor="start" stroke="#ff0080" stroke-width="0.2">1015</text>
<rect x="686" y="295" width="4" height="1" fill="#808080"/>
<text transform="translate(691.30,299.90) scale(0.866,1)" fill="#ff0080" font-size="12.5" text-anchor="start" stroke="#ff0080" stroke-width="0.2">1016</text>
<rect x="686" y="244" width="4" height="1" fill="#808080"/>
<text transform="translate(691.30,248.90) scale(0.866,1)" fill="#ff0080" font-size="12.5" text-anchor="start" stroke="#ff0080" stroke-width="0.2">1017</text>
<rect x="686" y="192" width="4" height="1" fill="#808080"/>
<text transform="translate(691.30,196.90) scale(0.866,1)" fill="#ff0080" font-size="12.5" text-anchor="start" stroke="#ff0080" stroke-width="0.2">1018</text>
<rect x="686" y="141" width="4" height="1" fill="#808080"/>
<text transform="translate(691.30,145.90) scale(0.866,1)" fill="#ff0080" font-size="12.5" text-anchor="start" stroke="#ff0080" stroke-width="0.2">1019</text>
<rect x="686" y="90" width="4" height="1" fill="#808080"/>
<text transform="translate(691.30,94.90) scale(0.866,1)" fill="#ff0080" font-size="12.5" text-anchor="start" stroke="#ff0080" stroke-width="0.2">1020</text>
<text x="685.80" y="79.00" fill="#ff0080" font-size="12.5" textLength="18.20" lengthAdjust="spacingAndGlyphs" stroke="#ff0080" stroke-width="0.2">hPa</text>
<rect x="722" y="90" width="1" height="411" fill="#808080"/>
<rect x="718" y="90" width="9" height="1" fill="#808080"/>
<rect x="718" y="500" width="8" height="1" fill="#808080"/>
<rect x="723" y="500" width="4" height="1" fill="#808080"/>
<text transform="translate(728.30,504.90) scale(0.866,1)" fill="#000" font-size="12.5" text-anchor="start" stroke="#000" stroke-width="0.2">0.0</text>
<rect x="723" y="466" width="4" height="1" fill="#808080"/>
<text transform="translate(728.30,470.90) scale(0.866,1)" fill="#000" font-size="12.5" text-anchor="start" stroke="#000" stroke-width="0.2">5.0</text>
<rect x="723" y="432" width="4" height="1" fill="#808080"/>
<text transform="translate(728.30,436.90) scale(0.866,1)" fill="#000" font-size="12.5" text-anchor="start" stroke="#000" stroke-width="0.2">10.0</text>
<rect x="723" y="398" width="4" height="1" fill="#808080"/>
<text transform="translate(728.30,402.90) scale(0.866,1)" fill="#000" font-size="12.5" text-anchor="start" stroke="#000" stroke-width="0.2">15.0</text>
<rect x="723" y="363" width="4" height="1" fill="#808080"/>
<text transform="translate(728.30,367.90) scale(0.866,1)" fill="#000" font-size="12.5" text-anchor="start" stroke="#000" stroke-width="0.2">20.0</text>
<rect x="723" y="329" width="4" height="1" fill="#808080"/>
<text transform="translate(728.30,333.90) scale(0.866,1)" fill="#000" font-size="12.5" text-anchor="start" stroke="#000" stroke-width="0.2">25.0</text>
<rect x="723" y="295" width="4" height="1" fill="#808080"/>
<text transform="translate(728.30,299.90) scale(0.866,1)" fill="#000" font-size="12.5" text-anchor="start" stroke="#000" stroke-width="0.2">30.0</text>
<rect x="723" y="261" width="4" height="1" fill="#808080"/>
<text transform="translate(728.30,265.90) scale(0.866,1)" fill="#000" font-size="12.5" text-anchor="start" stroke="#000" stroke-width="0.2">35.0</text>
<rect x="723" y="227" width="4" height="1" fill="#808080"/>
<text transform="translate(728.30,231.90) scale(0.866,1)" fill="#000" font-size="12.5" text-anchor="start" stroke="#000" stroke-width="0.2">40.0</text>
<rect x="723" y="192" width="4" height="1" fill="#808080"/>
<text transform="translate(728.30,196.90) scale(0.866,1)" fill="#000" font-size="12.5" text-anchor="start" stroke="#000" stroke-width="0.2">45.0</text>
<rect x="723" y="158" width="4" height="1" fill="#808080"/>
<text transform="translate(728.30,162.90) scale(0.866,1)" fill="#000" font-size="12.5" text-anchor="start" stroke="#000" stroke-width="0.2">50.0</text>
<rect x="723" y="124" width="4" height="1" fill="#808080"/>
<text transform="translate(728.30,128.90) scale(0.866,1)" fill="#000" font-size="12.5" text-anchor="start" stroke="#000" stroke-width="0.2">55.0</text>
<rect x="723" y="90" width="4" height="1" fill="#808080"/>
<text transform="translate(728.30,94.90) scale(0.866,1)" fill="#000" font-size="12.5" text-anchor="start" stroke="#000" stroke-width="0.2">60.0</text>
<text x="722.50" y="79.00" fill="#000" font-size="12.5" textLength="25.00" lengthAdjust="spacingAndGlyphs" stroke="#000" stroke-width="0.2">km/h</text>
<rect x="759" y="90" width="1" height="411" fill="#808080"/>
<rect x="755" y="90" width="9" height="1" fill="#808080"/>
<rect x="755" y="500" width="8" height="1" fill="#808080"/>
<rect x="760" y="500" width="4" height="1" fill="#808080"/>
<text transform="translate(765.30,504.90) scale(0.866,1)" fill="#ff8000" font-size="12.5" text-anchor="start" stroke="#ff8000" stroke-width="0.2">0</text>
<rect x="760" y="459" width="4" height="1" fill="#808080"/>
<text transform="translate(765.30,463.90) scale(0.866,1)" fill="#ff8000" font-size="12.5" text-anchor="start" stroke="#ff8000" stroke-width="0.2">10</text>
<rect x="760" y="418" width="4" height="1" fill="#808080"/>
<text transform="translate(765.30,422.90) scale(0.866,1)" fill="#ff8000" font-size="12.5" text-anchor="start" stroke="#ff8000" stroke-width="0.2">20</text>
<rect x="760" y="377" width="4" height="1" fill="#808080"/>
<text transform="translate(765.30,381.90) scale(0.866,1)" fill="#ff8000" font-size="12.5" text-anchor="start" stroke="#ff8000" stroke-width="0.2">30</text>
<rect x="760" y="336" width="4" height="1" fill="#808080"/>
<text transform="translate(765.30,340.90) scale(0.866,1)" fill="#ff8000" font-size="12.5" text-anchor="start" stroke="#ff8000" stroke-width="0.2">40</text>
<rect x="760" y="295" width="4" height="1" fill="#808080"/>
<text transform="translate(765.30,299.90) scale(0.866,1)" fill="#ff8000" font-size="12.5" text-anchor="start" stroke="#ff8000" stroke-width="0.2">50</text>
<rect x="760" y="254" width="4" height="1" fill="#808080"/>
<text transform="translate(765.30,258.90) scale(0.866,1)" fill="#ff8000" font-size="12.5" text-anchor="start" stroke="#ff8000" stroke-width="0.2">60</text>
<rect x="760" y="213" width="4" height="1" fill="#808080"/>
<text transform="translate(765.30,217.90) scale(0.866,1)" fill="#ff8000" font-size="12.5" text-anchor="start" stroke="#ff8000" stroke-width="0.2">70</text>
<rect x="760" y="172" width="4" height="1" fill="#808080"/>
<text transform="translate(765.30,176.90) scale(0.866,1)" fill="#ff8000" font-size="12.5" text-anchor="start" stroke="#ff8000" stroke-width="0.2">80</text>
<rect x="760" y="131" width="4" height="1" fill="#808080"/>
<text transform="translate(765.30,135.90) scale(0.866,1)" fill="#ff8000" font-size="12.5" text-anchor="start" stroke="#ff8000" stroke-width="0.2">90</text>
<rect x="760" y="90" width="4" height="1" fill="#808080"/>
<text transform="translate(765.30,94.90) scale(0.866,1)" fill="#ff8000" font-size="12.5" text-anchor="start" stroke="#ff8000" stroke-width="0.2">100</text>
<text x="759.70" y="79.00" fill="#ff8000" font-size="12.5" textLength="15.30" lengthAdjust="spacingAndGlyphs" stroke="#ff8000" stroke-width="0.2">min</text>
<rect x="797" y="90" width="1" height="411" fill="#808080"/>
<rect x="793" y="90" width="9" height="1" fill="#808080"/>
<rect x="793" y="500" width="8" height="1" fill="#808080"/>
<rect x="798" y="500" width="4" height="1" fill="#808080"/>
<text transform="translate(803.30,504.90) scale(0.866,1)" fill="#ffa07a" font-size="12.5" text-anchor="start" stroke="#ffa07a" stroke-width="0.2">0</text>
<rect x="798" y="480" width="4" height="1" fill="#808080"/>
<text transform="translate(803.30,484.90) scale(0.866,1)" fill="#ffa07a" font-size="12.5" text-anchor="start" stroke="#ffa07a" stroke-width="0.2">50</text>
<rect x="798" y="459" width="4" height="1" fill="#808080"/>
<text transform="translate(803.30,463.90) scale(0.866,1)" fill="#ffa07a" font-size="12.5" text-anchor="start" stroke="#ffa07a" stroke-width="0.2">100</text>
<rect x="798" y="438" width="4" height="1" fill="#808080"/>
<text transform="translate(803.30,442.90) scale(0.866,1)" fill="#ffa07a" font-size="12.5" text-anchor="start" stroke="#ffa07a" stroke-width="0.2">150</text>
<rect x="798" y="418" width="4" height="1" fill="#808080"/>
<text transform="translate(803.30,422.90) scale(0.866,1)" fill="#ffa07a" font-size="12.5" text-anchor="start" stroke="#ffa07a" stroke-width="0.2">200</text>
<rect x="798" y="398" width="4" height="1" fill="#808080"/>
<text transform="translate(803.30,402.90) scale(0.866,1)" fill="#ffa07a" font-size="12.5" text-anchor="start" stroke="#ffa07a" stroke-width="0.2">250</text>
<rect x="798" y="377" width="4" height="1" fill="#808080"/>
<text transform="translate(803.30,381.90) scale(0.866,1)" fill="#ffa07a" font-size="12.5" text-anchor="start" stroke="#ffa07a" stroke-width="0.2">300</text>
<rect x="798" y="356" width="4" height="1" fill="#808080"/>
<text transform="translate(803.30,360.90) scale(0.866,1)" fill="#ffa07a" font-size="12.5" text-anchor="start" stroke="#ffa07a" stroke-width="0.2">350</text>
<rect x="798" y="336" width="4" height="1" fill="#808080"/>
<text transform="translate(803.30,340.90) scale(0.866,1)" fill="#ffa07a" font-size="12.5" text-anchor="start" stroke="#ffa07a" stroke-width="0.2">400</text>
<rect x="798" y="316" width="4" height="1" fill="#808080"/>
<text transform="translate(803.30,320.90) scale(0.866,1)" fill="#ffa07a" font-size="12.5" text-anchor="start" stroke="#ffa07a" stroke-width="0.2">450</text>
<rect x="798" y="295" width="4" height="1" fill="#808080"/>
<text transform="translate(803.30,299.90) scale(0.866,1)" fill="#ffa07a" font-size="12.5" text-anchor="start" stroke="#ffa07a" stroke-width="0.2">500</text>
<rect x="798" y="274" width="4" height="1" fill="#808080"/>
<text transform="translate(803.30,278.90) scale(0.866,1)" fill="#ffa07a" font-size="12.5" text-anchor="start" stroke="#ffa07a" stroke-width="0.2">550</text>
<rect x="798" y="254" width="4" height="1" fill="#808080"/>
<text transform="translate(803.30,258.90) scale(0.866,1)" fill="#ffa07a" font-size="12.5" text-anchor="start" stroke="#ffa07a" stroke-width="0.2">600</text>
<rect x="798" y="234" width="4" height="1" fill="#808080"/>
<text transform="translate(803.30,238.90) scale(0.866,1)" fill="#ffa07a" font-size="12.5" text-anchor="start" stroke="#ffa07a" stroke-width="0.2">650</text>
<rect x="798" y="213" width="4" height="1" fill="#808080"/>
<text transform="translate(803.30,217.90) scale(0.866,1)" fill="#ffa07a" font-size="12.5" text-anchor="start" stroke="#ffa07a" stroke-width="0.2">700</text>
<rect x="798" y="192" width="4" height="1" fill="#808080"/>
<text transform="translate(803.30,196.90) scale(0.866,1)" fill="#ffa07a" font-size="12.5" text-anchor="start" stroke="#ffa07a" stroke-width="0.2">750</text>
<rect x="798" y="172" width="4" height="1" fill="#808080"/>
<text transform="translate(803.30,176.90) scale(0.866,1)" fill="#ffa07a" font-size="12.5" text-anchor="start" stroke="#ffa07a" stroke-width="0.2">800</text>
<rect x="798" y="152" width="4" height="1" fill="#808080"/>
<text transform="translate(803.30,156.90) scale(0.866,1)" fill="#ffa07a" font-size="12.5" text-anchor="start" stroke="#ffa07a" stroke-width="0.2">850</text>
<rect x="798" y="131" width="4" height="1" fill="#808080"/>
<text transform="translate(803.30,135.90) scale(0.866,1)" fill="#ffa07a" font-size="12.5" text-anchor="start" stroke="#ffa07a" stroke-width="0.2">900</text>
<rect x="798" y="110" width="4" height="1" fill="#808080"/>
<text transform="translate(803.30,114.90) scale(0.866,1)" fill="#ffa07a" font-size="12.5" text-anchor="start" stroke="#ffa07a" stroke-width="0.2">950</text>
<rect x="798" y="90" width="4" height="1" fill="#808080"/>
<text transform="translate(803.30,94.90) scale(0.866,1)" fill="#ffa07a" font-size="12.5" text-anchor="start" stroke="#ffa07a" stroke-width="0.2">1000</text>
<text x="796.30" y="79.00" fill="#ffa07a" font-size="12.5" textLength="26.50" lengthAdjust="spacingAndGlyphs" stroke="#ffa07a" stroke-width="0.2">W/m²</text>
<text x="10.60" y="529.90" fill="#000" font-size="12.5" textLength="26.60" lengthAdjust="spacingAndGlyphs" stroke="#000" stroke-width="0.2">08:42</text>
<path d="M39.9,529 A4.65,6.2 0 0 1 49.2,529 Z" fill="#ffff00"/>
<rect x="194.5" y="520.5" width="5" height="5" fill="none" stroke="#4040c0" stroke-width="1" stroke-dasharray="1.5 1.5"/>
<path d="M201.3,521.8 L204,527 L202.6,527 L202.6,531 L200.2,531 L200.2,527 L198.8,527 Z" fill="#ffff00" stroke="#333" stroke-width=".5"/>
<text x="206.30" y="529.90" fill="#000" font-size="12.5" textLength="26.00" lengthAdjust="spacingAndGlyphs" stroke="#000" stroke-width="0.2">00:35</text>
<text x="305.20" y="529.90" fill="#000" font-size="12.5" textLength="24.10" lengthAdjust="spacingAndGlyphs" stroke="#000" stroke-width="0.2">07:51</text>
<g stroke="#ffff70" stroke-width="1"><path d="M338,520.3 V531.7 M332.3,526 H343.7 M334,522 L342,530 M342,522 L334,530"/></g><circle cx="338" cy="525.9" r="3.4" fill="#ffff00"/>
<rect x="455.5" y="525.5" width="5" height="5" fill="none" stroke="#4040c0" stroke-width="1" stroke-dasharray="1.5 1.5"/>
<path d="M453.4,529 L450.6,523.6 L452.2,523.6 L452.2,520 L454.6,520 L454.6,523.6 L456.2,523.6 Z" fill="#ffff00" stroke="#333" stroke-width=".5"/>
<text x="462.00" y="529.90" fill="#000" font-size="12.5" textLength="36.00" lengthAdjust="spacingAndGlyphs" stroke="#000" stroke-width="0.2">1 16:33</text>
<rect x="502.6" y="523.6" width="4.8" height="4.8" fill="none" stroke="#ffff00" stroke-width="1.2"/>
<rect x="1" y="534" width="834" height="86" fill="#c0c0c0"/>
<rect x="87" y="534" width="1" height="86" fill="#fff"/>
<rect x="88" y="534" width="1" height="86" fill="#a8a8a8"/>
<rect x="204" y="534" width="1" height="86" fill="#fff"/>
<rect x="205" y="534" width="1" height="86" fill="#a8a8a8"/>
<rect x="322" y="534" width="1" height="86" fill="#fff"/>
<rect x="323" y="534" width="1" height="86" fill="#a8a8a8"/>
<rect x="440" y="534" width="1" height="86" fill="#fff"/>
<rect x="441" y="534" width="1" height="86" fill="#a8a8a8"/>
<rect x="558" y="534" width="1" height="86" fill="#fff"/>
<rect x="559" y="534" width="1" height="86" fill="#a8a8a8"/>
<rect x="676" y="534" width="1" height="86" fill="#fff"/>
<rect x="677" y="534" width="1" height="86" fill="#a8a8a8"/>
<rect x="794" y="534" width="1" height="86" fill="#fff"/>
<rect x="795" y="534" width="1" height="86" fill="#a8a8a8"/>
<text x="8.70" y="552.00" fill="#000" font-size="12.5" textLength="38.30" lengthAdjust="spacingAndGlyphs" font-weight="bold">Sensor</text>
<text x="8.70" y="567.90" fill="#000" font-size="12.5" textLength="46.30" lengthAdjust="spacingAndGlyphs" font-weight="bold">MinWert</text>
<text x="8.70" y="583.80" fill="#000" font-size="12.5" textLength="49.10" lengthAdjust="spacingAndGlyphs" font-weight="bold">MaxWert</text>
<text x="8.70" y="599.80" fill="#000" font-size="12.5" textLength="71.40" lengthAdjust="spacingAndGlyphs" font-weight="bold">Durchschnitt</text>
<text x="8.70" y="615.70" fill="#000" font-size="12.5" textLength="71.40" lengthAdjust="spacingAndGlyphs" font-weight="bold">24.11. 23:55</text>
<text x="96.00" y="552.00" fill="#000" font-size="12.5" textLength="62.30" lengthAdjust="spacingAndGlyphs" font-weight="bold">T- 2m aktiv</text>
<text x="185.60" y="552.00" fill="#000" font-size="12.5" textLength="12.90" lengthAdjust="spacingAndGlyphs" font-weight="bold">°C</text>
<text x="100.80" y="567.90" fill="#000" font-size="12.5" textLength="26.70" lengthAdjust="spacingAndGlyphs" stroke="#000" stroke-width="0.2">00:00</text>
<text x="183.80" y="567.90" fill="#000" font-size="12.5" textLength="14.50" lengthAdjust="spacingAndGlyphs" stroke="#000" stroke-width="0.2">6.3</text>
<text x="100.80" y="583.80" fill="#000" font-size="12.5" textLength="26.70" lengthAdjust="spacingAndGlyphs" stroke="#000" stroke-width="0.2">14:55</text>
<text x="178.40" y="583.80" fill="#000" font-size="12.5" textLength="19.00" lengthAdjust="spacingAndGlyphs" stroke="#000" stroke-width="0.2">17.1</text>
<text x="100.00" y="599.80" fill="#000" font-size="12.5" textLength="39.00" lengthAdjust="spacingAndGlyphs" stroke="#000" stroke-width="0.2">(+ 4.66 )</text>
<text x="171.80" y="599.80" fill="#000" font-size="12.5" textLength="26.50" lengthAdjust="spacingAndGlyphs" stroke="#000" stroke-width="0.2">10.86</text>
<text x="173.50" y="615.70" fill="#000" font-size="12.5" textLength="25.00" lengthAdjust="spacingAndGlyphs" font-weight="bold">11.8</text>
<text x="213.00" y="552.00" fill="#000" font-size="12.5" textLength="61.70" lengthAdjust="spacingAndGlyphs" font-weight="bold">F- 2m aktiv</text>
<text x="307.80" y="552.00" fill="#000" font-size="12.5" textLength="8.60" lengthAdjust="spacingAndGlyphs" font-weight="bold">%</text>
<text x="218.00" y="567.90" fill="#000" font-size="12.5" textLength="27.00" lengthAdjust="spacingAndGlyphs" stroke="#000" stroke-width="0.2">14:55</text>
<text x="304.90" y="567.90" fill="#000" font-size="12.5" textLength="11.50" lengthAdjust="spacingAndGlyphs" stroke="#000" stroke-width="0.2">62</text>
<text x="218.00" y="583.80" fill="#000" font-size="12.5" textLength="27.00" lengthAdjust="spacingAndGlyphs" stroke="#000" stroke-width="0.2">20:25</text>
<text x="304.90" y="583.80" fill="#000" font-size="12.5" textLength="10.70" lengthAdjust="spacingAndGlyphs" stroke="#000" stroke-width="0.2">81</text>
<text x="304.90" y="599.80" fill="#000" font-size="12.5" textLength="11.50" lengthAdjust="spacingAndGlyphs" stroke="#000" stroke-width="0.2">69</text>
<text x="215.80" y="615.70" fill="#000" font-size="12.5" textLength="45.20" lengthAdjust="spacingAndGlyphs" stroke="#000" stroke-width="0.2">7.58 g/m³</text>
<text x="302.90" y="615.70" fill="#000" font-size="12.5" textLength="13.50" lengthAdjust="spacingAndGlyphs" font-weight="bold">72</text>
<text x="330.90" y="552.00" fill="#000" font-size="12.5" textLength="52.90" lengthAdjust="spacingAndGlyphs" font-weight="bold">Luftdruck</text>
<text x="412.50" y="552.00" fill="#000" font-size="12.5" textLength="22.10" lengthAdjust="spacingAndGlyphs" font-weight="bold">hPa</text>
<text x="336.20" y="567.90" fill="#000" font-size="12.5" textLength="27.40" lengthAdjust="spacingAndGlyphs" stroke="#000" stroke-width="0.2">23:55</text>
<text x="401.60" y="567.90" fill="#000" font-size="12.5" textLength="33.00" lengthAdjust="spacingAndGlyphs" stroke="#000" stroke-width="0.2">1012.9</text>
<text x="336.20" y="583.80" fill="#000" font-size="12.5" textLength="27.40" lengthAdjust="spacingAndGlyphs" stroke="#000" stroke-width="0.2">10:15</text>
<text x="401.60" y="583.80" fill="#000" font-size="12.5" textLength="33.00" lengthAdjust="spacingAndGlyphs" stroke="#000" stroke-width="0.2">1016.8</text>
<text x="331.00" y="599.80" fill="#000" font-size="12.5" textLength="50.60" lengthAdjust="spacingAndGlyphs" stroke="#000" stroke-width="0.2">^0.9hPa/h</text>
<text x="401.60" y="599.80" fill="#000" font-size="12.5" textLength="33.00" lengthAdjust="spacingAndGlyphs" stroke="#000" stroke-width="0.2">1015.3</text>
<text x="448.30" y="552.00" fill="#000" font-size="12.5" textLength="56.90" lengthAdjust="spacingAndGlyphs" font-weight="bold">Windböen</text>
<text x="524.00" y="552.00" fill="#000" font-size="12.5" textLength="28.00" lengthAdjust="spacingAndGlyphs" font-weight="bold">km/h</text>
<text x="448.30" y="567.90" fill="#000" font-size="12.5" textLength="43.90" lengthAdjust="spacingAndGlyphs" stroke="#000" stroke-width="0.2">Ø 10 min.</text>
<text x="538.00" y="567.90" fill="#000" font-size="12.5" textLength="14.00" lengthAdjust="spacingAndGlyphs" stroke="#000" stroke-width="0.2">6.4</text>
<text x="454.50" y="583.80" fill="#000" font-size="12.5" textLength="26.80" lengthAdjust="spacingAndGlyphs" stroke="#000" stroke-width="0.2">09:35</text>
<text x="503.00" y="583.80" fill="#000" font-size="12.5" textLength="49.00" lengthAdjust="spacingAndGlyphs" stroke="#000" stroke-width="0.2">O-SO 14.5</text>
<text x="538.00" y="599.80" fill="#000" font-size="12.5" textLength="14.00" lengthAdjust="spacingAndGlyphs" stroke="#000" stroke-width="0.2">4.0</text>
<text x="455.40" y="615.70" fill="#000" font-size="12.5" textLength="47.60" lengthAdjust="spacingAndGlyphs" stroke="#000" stroke-width="0.2">2 Bft S-SO</text>
<text x="534.80" y="615.70" fill="#000" font-size="12.5" textLength="17.20" lengthAdjust="spacingAndGlyphs" font-weight="bold">6.4</text>
<text x="567.40" y="552.00" fill="#000" font-size="12.5" textLength="35.20" lengthAdjust="spacingAndGlyphs" font-weight="bold">Regen</text>
<text x="650.00" y="552.00" fill="#000" font-size="12.5" textLength="20.70" lengthAdjust="spacingAndGlyphs" font-weight="bold">l/m²</text>
<text x="567.40" y="567.90" fill="#000" font-size="12.5" textLength="26.20" lengthAdjust="spacingAndGlyphs" stroke="#000" stroke-width="0.2">5 min.</text>
<text x="572.40" y="583.80" fill="#000" font-size="12.5" textLength="26.90" lengthAdjust="spacingAndGlyphs" stroke="#000" stroke-width="0.2">00:00</text>
<text x="655.80" y="583.80" fill="#000" font-size="12.5" textLength="14.70" lengthAdjust="spacingAndGlyphs" stroke="#000" stroke-width="0.2">0.0</text>
<text x="567.40" y="599.80" fill="#000" font-size="12.5" textLength="37.90" lengthAdjust="spacingAndGlyphs" stroke="#000" stroke-width="0.2">Gesamt:</text>
<text x="655.80" y="599.80" fill="#000" font-size="12.5" textLength="14.70" lengthAdjust="spacingAndGlyphs" stroke="#000" stroke-width="0.2">0.0</text>
<text x="570.00" y="615.70" fill="#000" font-size="12.5" textLength="35.30" lengthAdjust="spacingAndGlyphs" stroke="#000" stroke-width="0.2">0.0 l/m²</text>
<text x="652.00" y="615.70" fill="#000" font-size="12.5" textLength="18.70" lengthAdjust="spacingAndGlyphs" font-weight="bold">0.0</text>
<text x="685.00" y="552.00" fill="#000" font-size="12.5" textLength="57.00" lengthAdjust="spacingAndGlyphs" font-weight="bold">PMV+1:13</text>
<text x="685.00" y="567.90" fill="#000" font-size="12.5" textLength="55.40" lengthAdjust="spacingAndGlyphs" stroke="#000" stroke-width="0.2">WC 11.8 °C</text>
<text x="685.00" y="583.80" fill="#000" font-size="12.5" textLength="45.00" lengthAdjust="spacingAndGlyphs" stroke="#000" stroke-width="0.2">TP 6.9 °C</text>
<text x="685.00" y="599.80" fill="#000" font-size="12.5" textLength="53.40" lengthAdjust="spacingAndGlyphs" stroke="#000" stroke-width="0.2">-1.3hPa/3h</text>
<text x="685.00" y="615.70" fill="#000" font-size="12.5" textLength="53.40" lengthAdjust="spacingAndGlyphs" stroke="#000" stroke-width="0.2">-0.6hPa/1h</text>
<clipPath id="cv"><rect x="325" y="604" width="61" height="16"/></clipPath>
<text x="331" y="615.7" font-size="12.5" textLength="58" lengthAdjust="spacingAndGlyphs" clip-path="url(#cv)">veränderlich</text>
<rect x="386.5" y="606" width="7.5" height="11.5" fill="#ececec"/>
<path d="M390.3,606.5 V611" fill="none" stroke="#e07000" stroke-width="1.8"/>
<path d="M390.3,610 V616 M387,612.3 L390.3,616.6 L393.6,612.3" fill="none" stroke="#000" stroke-width="1.8"/>
<text x="396.30" y="615.70" fill="#000" font-size="12.5" textLength="38.30" lengthAdjust="spacingAndGlyphs" font-weight="bold">1012.9</text>
</svg>
</body></html>
